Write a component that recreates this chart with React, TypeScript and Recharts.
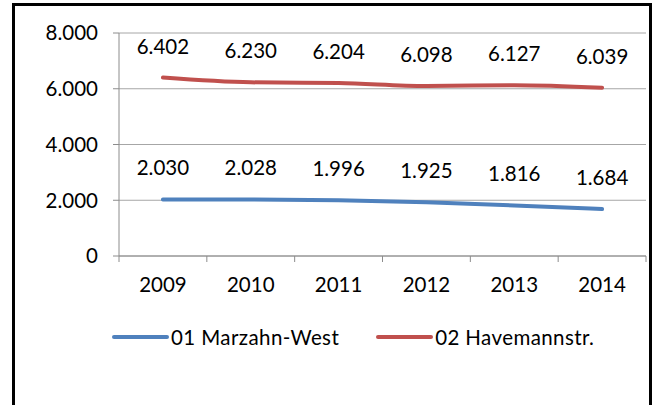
import React from 'react'
import { LineChart, Line, XAxis, YAxis, CartesianGrid, Legend, LabelList } from 'recharts'

const years = ['2009', '2010', '2011', '2012', '2013', '2014']
const marzahnWest = [2030, 2028, 1996, 1925, 1816, 1684]
const havemannstr = [6402, 6230, 6204, 6098, 6127, 6039]
const yTicks = [0, 2000, 4000, 6000, 8000]

const data = years.map((year, i) => ({
  year,
  marzahn: marzahnWest[i],
  havemann: havemannstr[i],
}))

const FONT = 'Lato, "Open Sans", sans-serif'
const FS = 20.5
const W = 658
const H = 405
const MARGIN = { top: 33, right: 12, bottom: 50, left: 0 }
const Y_AXIS_W = 119
const HALF_BAND = (W - MARGIN.left - MARGIN.right - Y_AXIS_W) / years.length / 2
const AXIS_GRAY = '#8c8c8c'

// german thousands separator: 6402 -> 6.402
const fmt = (v: any) => {
  const n = Number(v)
  if (n === 0) return '0'
  const s = String(Math.round(n))
  return s.replace(/\B(?=(\d{3})+(?!\d))/g, '.')
}

const XTick = ({ x, y, payload, index }: any) => (
  <g>
    <line x1={x - HALF_BAND} x2={x - HALF_BAND} y1={y} y2={y + 6} stroke={AXIS_GRAY} />
    {index === years.length - 1 && (
      <line x1={x + HALF_BAND} x2={x + HALF_BAND} y1={y} y2={y + 6} stroke={AXIS_GRAY} />
    )}
    <text x={x} y={y + 36} textAnchor="middle" fill="#000" fontSize={FS} fontFamily={FONT}>
      {payload.value}
    </text>
  </g>
)

const LegendContent = () => {
  const items = [
    { name: '01 Marzahn-West', color: '#4F81BD' },
    { name: '02 Havemannstr.', color: '#C0504D' },
  ]
  return (
    <div style={{ display: 'flex', alignItems: 'center', height: 36, paddingLeft: 112, fontFamily: FONT, fontSize: FS, letterSpacing: 0.4, color: '#000' }}>
      {items.map((it, i) => (
        <div key={it.name} style={{ display: 'flex', alignItems: 'center', marginRight: i === 0 ? 37 : 0 }}>
          <svg width={57} height={8} style={{ marginRight: 2 }}>
            <line x1={2} x2={55} y1={4} y2={4} stroke={it.color} strokeWidth={4} strokeLinecap="round" />
          </svg>
          <span>{it.name}</span>
        </div>
      ))}
    </div>
  )
}

const App = () => {
  return (
    <div style={{ position: 'absolute', left: 0, top: 0, width: W, height: H, overflow: 'hidden', background: '#fff' }}>
      <div style={{ position: 'absolute', left: 12, top: 3, width: 634, height: 430, border: '3px solid #000' }} />
      <div style={{ position: 'absolute', left: 0, top: 0 }}>
        <LineChart width={W} height={H} data={data} margin={MARGIN}>
          <CartesianGrid vertical={false} stroke="#a6a6a6" />
          <XAxis
            dataKey="year"
            scale="band"
            height={63}
            tickLine={false}
            tickSize={0}
            tickMargin={0}
            axisLine={{ stroke: AXIS_GRAY }}
            tick={<XTick />}
            interval={0}
          />
          <YAxis
            width={Y_AXIS_W}
            domain={[0, 8000]}
            ticks={yTicks}
            tickFormatter={fmt}
            tickSize={6}
            tickMargin={15}
            axisLine={{ stroke: AXIS_GRAY }}
            tickLine={{ stroke: AXIS_GRAY }}
            tick={{ fill: '#000', fontSize: FS, fontFamily: FONT }}
          />
          <Legend verticalAlign="bottom" height={36} wrapperStyle={{ left: 0, width: W }} content={<LegendContent />} />
          <Line
            type="monotone"
            dataKey="marzahn"
            name="01 Marzahn-West"
            stroke="#4F81BD"
            strokeWidth={4}
            strokeLinecap="round"
            dot={false}
            activeDot={false}
            isAnimationActive={false}
          >
            <LabelList dataKey="marzahn" position="top" offset={24} formatter={fmt} fill="#000" fontSize={FS} fontFamily={FONT} />
          </Line>
          <Line
            type="monotone"
            dataKey="havemann"
            name="02 Havemannstr."
            stroke="#C0504D"
            strokeWidth={4}
            strokeLinecap="round"
            dot={false}
            activeDot={false}
            isAnimationActive={false}
          >
            <LabelList dataKey="havemann" position="top" offset={24} formatter={fmt} fill="#000" fontSize={FS} fontFamily={FONT} />
          </Line>
        </LineChart>
      </div>
    </div>
  )
}

export default App
